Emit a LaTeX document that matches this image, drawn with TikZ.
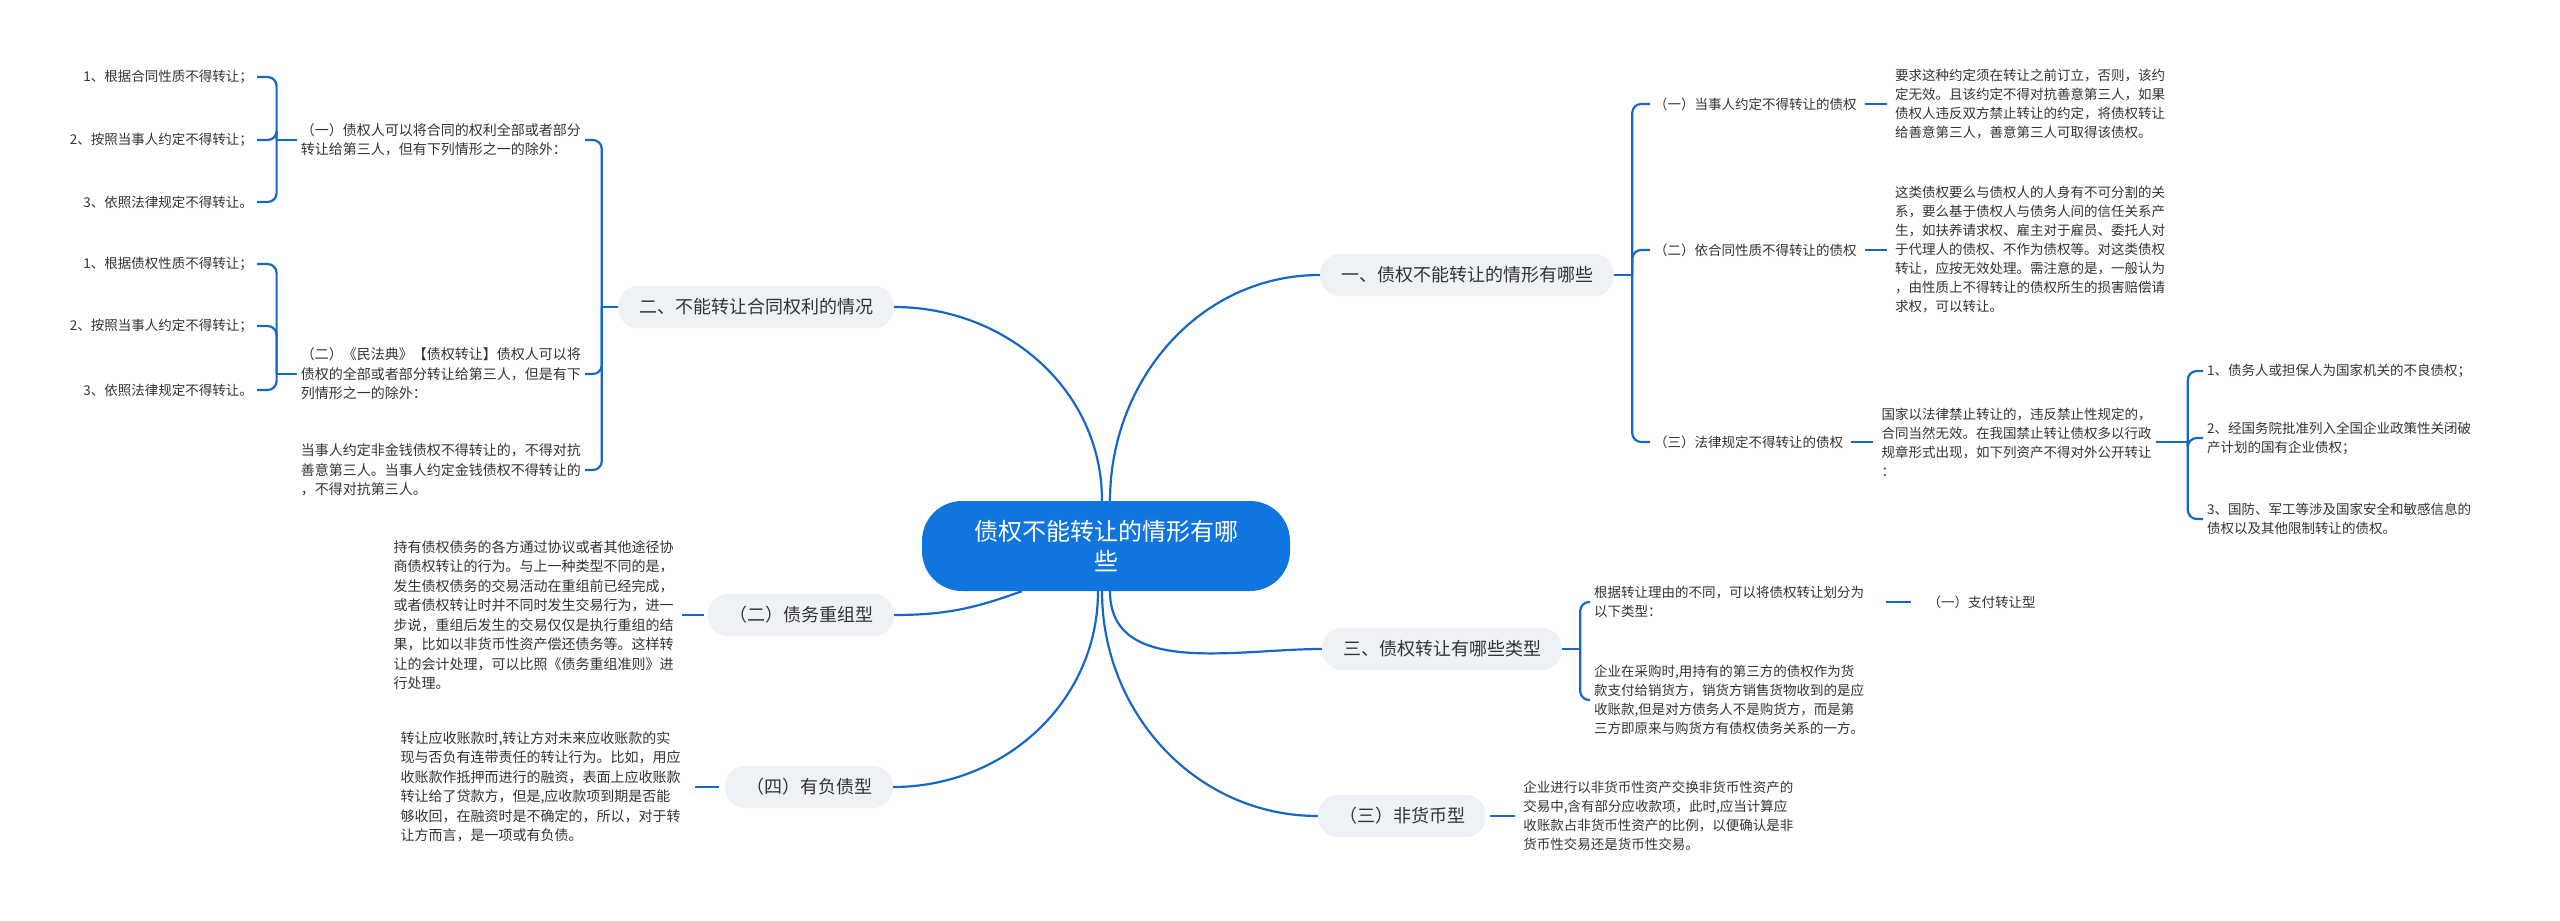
\documentclass[tikz,border=0pt]{standalone}
\usepackage{fontspec}
\setmainfont{Noto Sans CJK SC}
\usetikzlibrary{positioning}
\definecolor{mmblue}{RGB}{16,117,222}
\definecolor{mmline}{RGB}{22,104,196}
\definecolor{mmgrey}{RGB}{238,241,245}
\definecolor{mmink}{RGB}{51,51,51}
\tikzset{
  mm/.style={font=\fontsize{13.5}{19}\selectfont, text=mmink},
  mmhub/.style={
    fill=mmblue, text=white, font=\fontsize{24}{30}\selectfont,
    rounded corners=40pt, minimum width=368pt, minimum height=90pt, align=center
  },
  mmpill/.style={
    mm, font=\fontsize{18}{22}\selectfont, fill=mmgrey,
    rounded corners=20pt, minimum height=42pt, inner xsep=21pt
  },
  mmtext/.style={mm, align=left, inner sep=4pt},
  mmwide/.style={mmtext, font=\fontsize{14}{19.5}\selectfont},
  mmlink/.style={draw=mmline, line width=2.2pt},
  mmfork/.style={mmlink, rounded corners=9pt},
  mmdash/.style={mmlink, shorten <=4pt, shorten >=4pt},
}

\begin{document}
\begin{tikzpicture}[x=1pt, y=-1pt]
    \useasboundingbox (0,0) rectangle (2560,921);
    % 中心
    \node[mmhub] (hub) at (1106,546) {债权不能转让的情形有哪\\些};

    % 一级分支
    \node[mmpill] (b1) at (1467,275) {一、债权不能转让的情形有哪些};
    \node[mmpill] (b2) at (756,307) {二、不能转让合同权利的情况};
    \node[mmpill] (b3) at (1442,649) {三、债权转让有哪些类型};
    \node[mmpill] (b4) at (801,615) {（二）债务重组型};
    \node[mmpill] (b5) at (1402,816) {（三）非货币型};
    \node[mmpill] (b6) at (809,787) {（四）有负债型};

    \draw[mmlink] ([xshift=4pt]hub.north) to[out=90,in=180] (b1.west);
    \draw[mmlink] ([xshift=-4pt]hub.north) to[out=90,in=0] (b2.east);
    \draw[mmlink] ([xshift=4pt]hub.south) to[out=-90,in=180] (b3.west);
    \draw[mmlink] ([xshift=100pt]hub.south west) to[out=200,in=0] (b4.east);
    \draw[mmlink] ([xshift=-4pt]hub.south) to[out=-90,in=180] (b5.west);
    \draw[mmlink] ([xshift=-8pt]hub.south) to[out=-90,in=0] (b6.east);

    % 一、右上
    \coordinate[right=18pt of b1] (f1);
    \node[mmtext, anchor=west] (lab1) at (1650,104) {（一）当事人约定不得转让的债权};
    \node[mmtext, anchor=west] (lab2) at (1650,250) {（二）依合同性质不得转让的债权};
    \node[mmtext, anchor=west] (lab3) at (1650,442) {（三）法律规定不得转让的债权};
    \node[mmtext, right=30pt of lab1] (det1) {要求这种约定须在转让之前订立，否则，该约\\定无效。且该约定不得对抗善意第三人，如果\\债权人违反双方禁止转让的约定，将债权转让\\给善意第三人，善意第三人可取得该债权。};
    \node[mmtext, right=30pt of lab2] (det2) {这类债权要么与债权人的人身有不可分割的关\\系，要么基于债权人与债务人间的信任关系产\\生，如扶养请求权、雇主对于雇员、委托人对\\于代理人的债权、不作为债权等。对这类债权\\转让，应按无效处理。需注意的是，一般认为\\，由性质上不得转让的债权所生的损害赔偿请\\求权，可以转让。};
    \node[mmtext, right=30pt of lab3] (det3) {国家以法律禁止转让的，违反禁止性规定的，\\合同当然无效。在我国禁止转让债权多以行政\\规章形式出现，如下列资产不得对外公开转让\\：};
    \coordinate[right=32pt of det3] (f3);
    \node[mmtext, anchor=west] (i1) at (2203,371) {1、债务人或担保人为国家机关的不良债权；};
    \node[mmtext, anchor=west] (i2) at (2203,438) {2、经国务院批准列入全国企业政策性关闭破\\产计划的国有企业债权；};
    \node[mmtext, anchor=west] (i3) at (2203,519) {3、国防、军工等涉及国家安全和敏感信息的\\债权以及其他限制转让的债权。};

    \draw[mmlink] (b1) -- (f1);
    \draw[mmfork] (f1) |- (lab1);
    \draw[mmfork] (f1) |- (lab2);
    \draw[mmfork] (f1) |- (lab3);
    \draw[mmdash] (lab1) -- (det1);
    \draw[mmdash] (lab2) -- (det2);
    \draw[mmdash] (lab3) -- (det3);
    \draw[mmlink] (det3) -- (f3);
    \draw[mmfork] (f3) |- (i1);
    \draw[mmfork] (f3) |- (i2);
    \draw[mmfork] (f3) |- (i3);

    % 三、右下
    \coordinate[right=18pt of b3] (f4);
    \node[mmtext, anchor=west] (c1) at (1590,602) {根据转让理由的不同，可以将债权转让划分为\\以下类型：};
    \node[mmtext, anchor=west] (c2) at (1590,700) {企业在采购时,用持有的第三方的债权作为货\\款支付给销货方，销货方销售货物收到的是应\\收账款,但是对方债务人不是购货方，而是第\\三方即原来与购货方有债权债务关系的一方。};
    \node[mmtext, right=55pt of c1] (c1a) {（一）支付转让型};
    \draw[mmlink] (b3) -- (f4);
    \draw[mmfork] (f4) |- (c1);
    \draw[mmfork] (f4) |- (c2);
    \draw[mmlink, shorten <=18pt, shorten >=12pt] (c1) -- (c1a);

    \node[mmtext, right=33pt of b5] (det5) {企业进行以非货币性资产交换非货币性资产的\\交易中,含有部分应收款项，此时,应当计算应\\收账款占非货币性资产的比例，以便确认是非\\货币性交易还是货币性交易。};
    \draw[mmdash] (b5) -- (det5);

    % 二、左侧
    \coordinate[left=16pt of b2] (f2);
    \node[mmwide, anchor=east] (l1) at (585,140) {（一）债权人可以将合同的权利全部或者部分\\转让给第三人，但有下列情形之一的除外：};
    \node[mmwide, anchor=east] (l2) at (585,374) {（二）《民法典》【债权转让】债权人可以将\\债权的全部或者部分转让给第三人，但是有下\\列情形之一的除外：};
    \node[mmwide, anchor=east] (l3) at (585,470) {当事人约定非金钱债权不得转让的，不得对抗\\善意第三人。当事人约定金钱债权不得转让的\\，不得对抗第三人。};
    \draw[mmlink] (b2) -- (f2);
    \draw[mmfork] (f2) |- (l1);
    \draw[mmfork] (f2) |- (l2);
    \draw[mmfork] (f2) |- (l3);

    \coordinate[left=20pt of l1] (g1);
    \node[mmtext, anchor=east] (l1a) at (257,77) {1、根据合同性质不得转让；};
    \node[mmtext, anchor=east] (l1b) at (257,140) {2、按照当事人约定不得转让；};
    \node[mmtext, anchor=east] (l1c) at (257,202) {3、依照法律规定不得转让。};
    \draw[mmlink] (l1) -- (g1);
    \draw[mmfork] (g1) |- (l1a);
    \draw[mmfork] (g1) |- (l1b);
    \draw[mmfork] (g1) |- (l1c);

    \coordinate[left=20pt of l2] (g2);
    \node[mmtext, anchor=east] (l2a) at (257,264) {1、根据债权性质不得转让；};
    \node[mmtext, anchor=east] (l2b) at (257,326) {2、按照当事人约定不得转让；};
    \node[mmtext, anchor=east] (l2c) at (257,390) {3、依照法律规定不得转让。};
    \draw[mmlink] (l2) -- (g2);
    \draw[mmfork] (g2) |- (l2a);
    \draw[mmfork] (g2) |- (l2b);
    \draw[mmfork] (g2) |- (l2c);

    % 左下
    \node[mmwide, left=30pt of b4] (det4) {持有债权债务的各方通过协议或者其他途径协\\商债权转让的行为。与上一种类型不同的是，\\发生债权债务的交易活动在重组前已经完成，\\或者债权转让时并不同时发生交易行为，进一\\步说，重组后发生的交易仅仅是执行重组的结\\果，比如以非货币性资产偿还债务等。这样转\\让的会计处理，可以比照《债务重组准则》进\\行处理。};
    \node[mmwide, left=40pt of b6] (det6) {转让应收账款时,转让方对未来应收账款的实\\现与否负有连带责任的转让行为。比如，用应\\收账款作抵押而进行的融资，表面上应收账款\\转让给了贷款方，但是,应收款项到期是否能\\够收回，在融资时是不确定的，所以，对于转\\让方而言，是一项或有负债。};
    \draw[mmdash] (b4) -- (det4);
    \draw[mmlink, shorten <=6pt, shorten >=10pt] (b6) -- (det6);
  \end{tikzpicture}
\end{document}
